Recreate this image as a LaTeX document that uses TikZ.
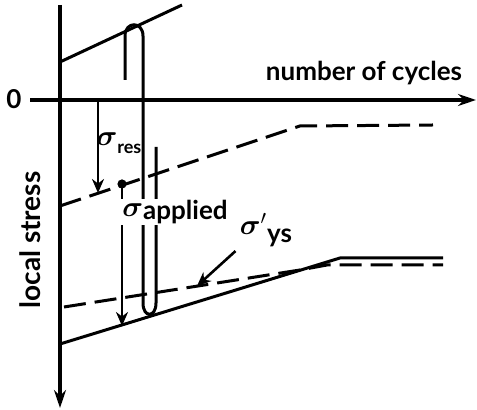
\documentclass[tikz,border=0pt]{standalone}
\usepackage{amsmath}
\usepackage{fontspec}
\setmainfont{Lato}
\usepackage{tikz}
\usetikzlibrary{arrows.meta}

\begin{document}
\begin{tikzpicture}[
    x=0.5pt, y=-0.5pt,
    axis/.style={-{Stealth[length=9pt, width=6pt]}, line width=1.7pt},
    ln/.style={line width=1.5pt},
    dln/.style={line width=1.5pt, dash pattern=on 11pt off 4.5pt},
    arr/.style={-{Stealth[length=7pt, width=6pt]}, line width=1.3pt},
    lbl/.style={font=\fontsize{13}{15}\selectfont\bfseries, inner sep=1pt}
]
\useasboundingbox (0,0) rectangle (477,410);
% axes
\coordinate (o) at (60,100);
\coordinate (ytop) at (60,5);
\coordinate (ybot) at (60,408);
\coordinate (xl) at (30,100);
\coordinate (xr) at (476,100);
\draw[axis] (ytop) -- (ybot);
\draw[axis] (xl) -- (xr);
\node[lbl] (zero) at (14,99) {0};
\node[lbl] (ncyc) at (364,73) {number of cycles};
\node[lbl, font=\fontsize{14}{16}\selectfont\bfseries, rotate=90] (lstress) at (30,240) {local stress};
% stress lines
\draw[ln] (60,62) -- (182,5);
\draw[dln] (60,206) -- (300,126) -- (433,125);
\draw[dln] (64,307) -- (300,270) -- (327,265) -- (443,265);
\draw[ln] (60,344) -- (340,258) -- (443,258);
% loop
\draw[ln] (125,80) -- (125,36) .. controls (125,21) and (143,21) .. (143,36)
    -- (143,303) .. controls (143,318) and (156,318) .. (156,303) -- (156,147);
% arrows
\coordinate (r0) at (98,101);
\coordinate (r1) at (98,193);
\draw[arr] (r0) -- (r1);
\coordinate (a0) at (122,184);
\coordinate (a1) at (122,326);
\fill (a0) circle (2.3pt);
\draw[arr] (a0) -- (a1);
\node[lbl] (sres) at (119,143) {\Large$\boldsymbol{\sigma}$\raisebox{-0.5ex}{\small\bfseries res}};
\node[lbl, fill=white, inner sep=0.5pt] (sapp) at (175,212) {\Large$\boldsymbol{\sigma}$\raisebox{-0.2ex}{\fontsize{13}{15}\selectfont applied}};
\node[lbl] (sys) at (266,230) {\Large$\boldsymbol{\sigma}'$\raisebox{-0.5ex}{\fontsize{13}{15}\selectfont ys}};
\coordinate (y1) at (197,286);
\draw[arr] (sys.south west) ++(-2,2) -- (y1);
\end{tikzpicture}
\end{document}
